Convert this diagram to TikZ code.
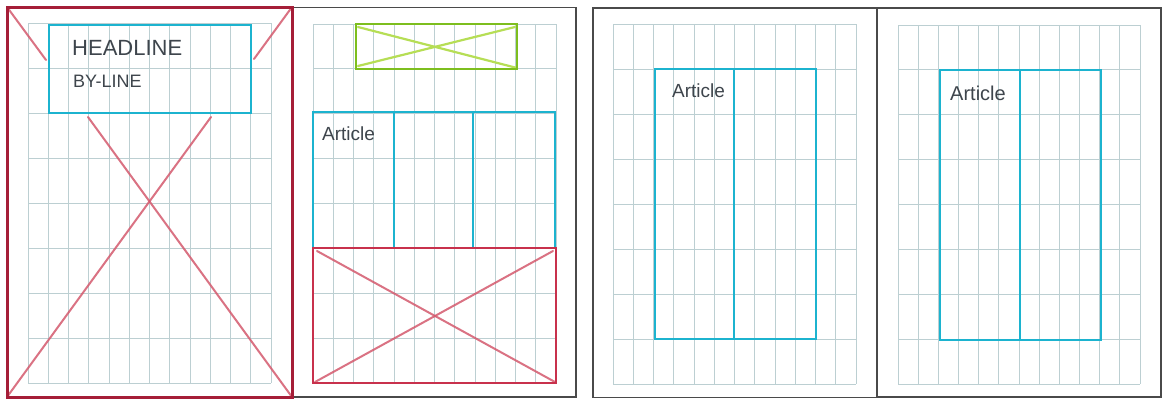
\documentclass[tikz,border=0pt]{standalone}
\usepackage{fontspec}
\setmainfont{Liberation Sans}
\definecolor{gridc}{HTML}{BCCFD2}
\definecolor{pagec}{HTML}{4A4A4A}
\definecolor{framered}{HTML}{A51E38}
\definecolor{xred}{HTML}{D45A6E}
\definecolor{boxred}{HTML}{C8314C}
\definecolor{cyanc}{HTML}{1CB3CF}
\definecolor{greenframe}{HTML}{7DBE1E}
\definecolor{greenx}{HTML}{B6DE55}
\definecolor{inkc}{HTML}{3E454C}
\tikzset{
  gridline/.style={draw=gridc, line width=0.9pt},
  pageborder/.style={draw=pagec, line width=1.4pt},
  redframe/.style={draw=framered, line width=3pt},
  redcross/.style={draw=xred, line width=2pt, opacity=0.85, line cap=round},
  redbox/.style={draw=boxred, line width=2.6pt},
  cyanbox/.style={draw=cyanc, line width=2.7pt},
  greenbox/.style={draw=greenframe, line width=2.6pt},
  greencross/.style={draw=greenx, line width=2.2pt, line cap=round},
  hand/.style={text=inkc, inner sep=0pt, anchor=base west},
}
\newcommand\pagegrid[4]{%
  \foreach \i in {0,...,12}{\draw[gridline] ({#1+\i*(#3-#1)/12},#2) -- ({#1+\i*(#3-#1)/12},#4);}
  \foreach \j in {0,...,8}{\draw[gridline] (#1,{#2+\j*(#4-#2)/8}) -- (#3,{#2+\j*(#4-#2)/8});}%
}
\begin{document}
\begin{tikzpicture}[x=1pt,y=-1pt]
\useasboundingbox[fill=white] (0,0) rectangle (1168,399);
% grids
\pagegrid{28}{23}{271}{383}
\pagegrid{313}{24}{556}{383}
\pagegrid{613}{24}{856}{384}
\pagegrid{898}{25}{1140}{384}
% page borders
\draw[pageborder] (293,7.5) rectangle (576,397);
\draw[pageborder] (593,8) rectangle (877,397.5);
\draw[pageborder] (877,8) rectangle (1161,397);
% page 1
\coordinate (p1tl) at (7,7);
\coordinate (p1tr) at (292,7);
\coordinate (p1bl) at (7,397);
\coordinate (p1br) at (292,397);
\draw[redcross] (p1tl) -- (46,60);
\draw[redcross] (88,117) -- (p1br);
\draw[redcross] (p1tr) -- (254,59);
\draw[redcross] (211,117) -- (p1bl);
\draw[redframe] (p1tl) rectangle (p1br);
\draw[cyanbox] (49,25) rectangle (251,113);
\node[hand, font=\fontsize{22}{24}\selectfont] (headline) at (72,55) {HEADLINE};
\node[hand, font=\fontsize{18}{20}\selectfont] (byline) at (73,87) {BY-LINE};
% page 2
\draw[greencross] (358,27) -- (517,68);
\draw[greencross] (358,66) -- (515,27);
\draw[greenbox] (356,24) rectangle (517,69);
\draw[cyanbox] (313,112) rectangle (555,248);
\draw[cyanbox] (394,112) -- (394,248);
\draw[cyanbox] (473,112) -- (473,248);
\node[hand, font=\fontsize{19}{21}\selectfont] (art2) at (322,140) {Article};
\draw[redcross] (317,251) -- (555,382);
\draw[redcross] (315,382) -- (553,251);
\draw[redbox] (313,248) rectangle (556,383);
% page 3
\draw[cyanbox] (655,69) rectangle (816,339);
\draw[cyanbox] (734,69) -- (734,339);
\node[hand, font=\fontsize{19}{21}\selectfont] (art3) at (672,97) {Article};
% page 4
\draw[cyanbox] (940,70) rectangle (1101,340);
\draw[cyanbox] (1020,70) -- (1020,340);
\node[hand, font=\fontsize{20}{22}\selectfont] (art4) at (950,100) {Article};
\end{tikzpicture}
\end{document}
